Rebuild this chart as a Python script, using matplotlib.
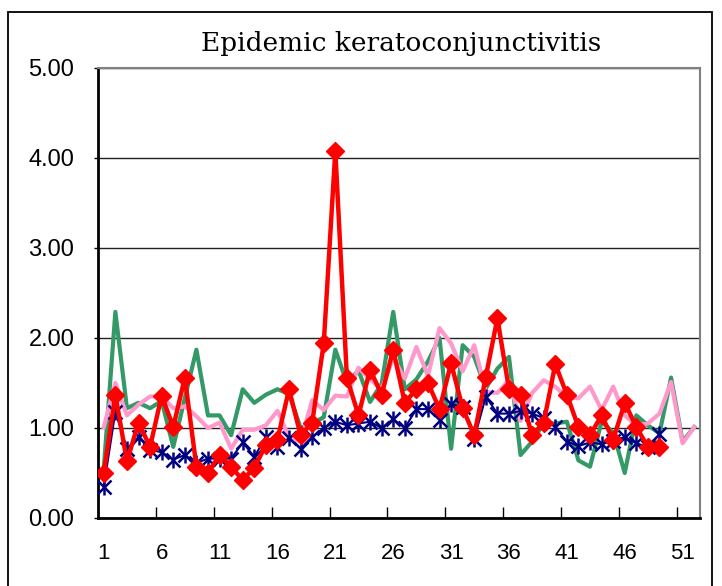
import numpy as np
import matplotlib.pyplot as plt
from matplotlib.patches import Rectangle

# weekly values
weeks_full = list(range(1, 53))
weeks_part = list(range(1, 50))

green = [0.55, 2.29, 1.22, 1.28, 1.22, 1.30, 0.79, 1.33, 1.87, 1.14,
         1.14, 0.92, 1.43, 1.28, 1.37, 1.43, 1.38, 1.00, 1.05, 1.12,
         1.87, 1.50, 1.64, 1.29, 1.49, 2.29, 1.43, 1.54, 1.74, 2.00,
         0.77, 1.92, 1.79, 1.44, 1.66, 1.79, 0.70, 0.85, 1.05, 1.05,
         1.07, 0.64, 0.57, 1.07, 0.95, 0.50, 1.14, 1.03, 0.94, 1.56,
         0.85, 1.01]

pink = [1.01, 1.50, 1.14, 1.26, 1.35, 1.35, 1.22, 1.24, 1.13, 1.00,
        1.06, 0.77, 0.98, 0.98, 1.03, 1.19, 0.90, 0.85, 1.31, 1.20,
        1.36, 1.35, 1.67, 1.54, 1.43, 1.78, 1.55, 1.90, 1.58, 2.11,
        1.94, 1.63, 1.92, 1.40, 1.39, 1.53, 1.08, 1.39, 1.53, 1.46,
        1.34, 1.33, 1.46, 1.20, 1.46, 1.14, 1.03, 1.05, 1.16, 1.51,
        0.83, 1.01]

navy = [0.35, 1.18, 0.77, 0.90, 0.76, 0.73, 0.65, 0.70, 0.61, 0.66,
        0.66, 0.66, 0.84, 0.68, 0.90, 0.79, 0.89, 0.77, 0.90, 1.00,
        1.07, 1.03, 1.05, 1.07, 1.00, 1.10, 1.00, 1.21, 1.21, 1.09,
        1.27, 1.23, 0.88, 1.35, 1.16, 1.16, 1.19, 1.16, 1.11, 1.01,
        0.85, 0.80, 0.84, 0.82, 0.86, 0.90, 0.83, 0.79, 0.93]

red = [0.50, 1.37, 0.63, 1.06, 0.79, 1.36, 1.01, 1.56, 0.57, 0.50,
       0.70, 0.57, 0.42, 0.56, 0.81, 0.87, 1.43, 0.92, 1.06, 1.94,
       4.08, 1.56, 1.14, 1.65, 1.37, 1.87, 1.28, 1.43, 1.50, 1.21,
       1.72, 1.22, 0.92, 1.57, 2.22, 1.43, 1.37, 0.92, 1.06, 1.71,
       1.37, 1.01, 0.92, 1.14, 0.87, 1.28, 1.01, 0.79, 0.79]

x_labels = [str(w) for w in range(1, 53, 5)]

fig = plt.figure(figsize=(7.22, 5.86), dpi=100)
ax = fig.add_axes([98 / 722, 1 - 518 / 586, 602 / 722, 450 / 586])

# outer chart border
fig.patches.append(Rectangle((8 / 722, -0.02), 704 / 722, 1 - 12 / 586 + 0.02,
                             transform=fig.transFigure, fill=False,
                             edgecolor='black', linewidth=1.3))

ax.plot(weeks_full, green, color='#339966', lw=3, zorder=2)
ax.plot(weeks_full, pink, color='#FF99CC', lw=3, zorder=3)
ax.plot(weeks_part, navy, color='#000080', lw=1.5, zorder=4)
ax.plot(weeks_part, navy, ls='none', marker='x', ms=10.5, mew=1.8,
        color='#000080', zorder=4)
ax.plot(weeks_part, navy, ls='none', marker='|', ms=12, mew=1.8,
        color='#000080', zorder=4)
ax.plot(weeks_part, red, color='#FF0000', lw=3.2, marker='D', ms=9.5,
        zorder=5)

ax.set_xlim(0.5, 52.5)
ax.set_ylim(0, 5)

ax.set_yticks(np.arange(0, 5.01, 1))
ax.set_yticklabels([f'{v:.2f}' for v in np.arange(0, 5.01, 1)],
                   family='Liberation Sans', fontsize=17)
ax.tick_params(axis='y', direction='out', length=3, pad=14, width=1)
ax.yaxis.grid(True, color='#222222', lw=1)
ax.set_axisbelow(True)

ax.set_xticks(np.arange(5.5, 51, 5))
ax.set_xticklabels([])
ax.tick_params(axis='x', which='major', direction='in', length=8, width=1)
ax.set_xticks(range(1, 53, 5), minor=True)
ax.set_xticklabels(x_labels, minor=True, family='Liberation Sans', fontsize=16)
ax.tick_params(axis='x', which='minor', length=0, pad=18)

for side in ['left', 'bottom']:
    ax.spines[side].set_color('black')
    ax.spines[side].set_linewidth(2)
for side in ['top', 'right']:
    ax.spines[side].set_color('#808080')
    ax.spines[side].set_linewidth(1.5)

fig.text(0.555, 1 - 44 / 586, 'Epidemic keratoconjunctivitis',
         family='DejaVu Serif', fontsize=19, ha='center', va='center')

fig.savefig('out.png', dpi=100)
